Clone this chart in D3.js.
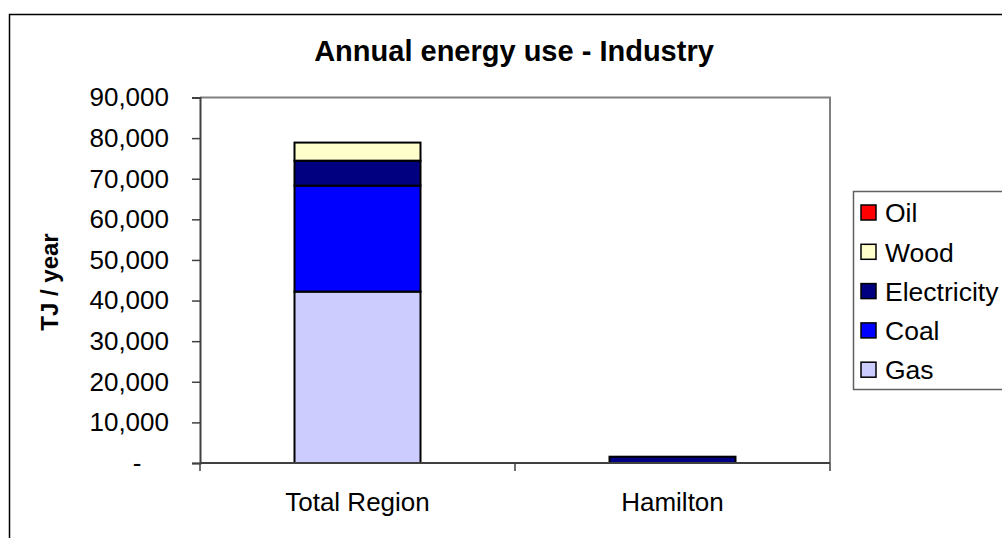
<!DOCTYPE html>
<html lang="en">
<head>
<meta charset="utf-8">
<title>Annual energy use - Industry</title>
<script src="https://d3js.org/d3.v7.min.js"></script>
<style>
body { margin: 0; background: #fff; }
text { font-family: "Liberation Sans", Arial, sans-serif; fill: #000; }
</style>
</head>
<body>
<script>
// data (TJ / year)
var categories = ["Total Region", "Hamilton"];
var seriesNames = ["Gas", "Coal", "Electricity", "Wood", "Oil"];
var gas = [42200, 0];
var coal = [26100, 0];
var electricity = [6150, 1550];
var wood = [4450, 0];
var oil = [0, 0];
var yTicks = [0, 10000, 20000, 30000, 40000, 50000, 60000, 70000, 80000, 90000];
var colors = {Gas: "#ccccff", Coal: "#0000ff", Electricity: "#000080", Wood: "#ffffcc", Oil: "#ff0000"};

var table = categories.map(function (c, i) {
    return {cat: c, Gas: gas[i], Coal: coal[i], Electricity: electricity[i], Wood: wood[i], Oil: oil[i]};
});

var W = 1002, H = 538;
var plot = {left: 200, top: 97.5, right: 830, bottom: 463};

var svg = d3.select("body").append("svg")
    .attr("width", W).attr("height", H);

// outer chart frame
svg.append("rect")
    .attr("x", 9.5).attr("y", 14.5)
    .attr("width", 1100).attr("height", 600)
    .attr("fill", "#fff").attr("stroke", "#000").attr("stroke-width", 1.5);

var x = d3.scaleBand()
    .domain(categories)
    .range([plot.left, plot.right])
    .paddingInner(0.6).paddingOuter(0.3);

var y = d3.scaleLinear()
    .domain([0, 90000])
    .range([plot.bottom, plot.top]);

// plot area border (top and right in grey)
svg.append("path")
    .attr("d", "M" + plot.left + "," + plot.top + "H" + plot.right + "V" + plot.bottom)
    .attr("fill", "none").attr("stroke", "#808080").attr("stroke-width", 2);

// stacked bars
var stack = d3.stack().keys(seriesNames)(table);
svg.append("g").selectAll("g")
    .data(stack)
    .enter().append("g")
    .attr("fill", function (d) { return colors[d.key]; })
    .selectAll("rect")
    .data(function (d) { return d.filter(function (p) { return p[1] - p[0] > 0; }); })
    .enter().append("rect")
    .attr("x", function (d) { return x(d.data.cat); })
    .attr("width", x.bandwidth())
    .attr("y", function (d) { return y(d[1]); })
    .attr("height", function (d) { return y(d[0]) - y(d[1]); })
    .attr("stroke", "#000").attr("stroke-width", 2);

// y axis
var fmt = d3.format(",");
var yAxis = svg.append("g")
    .attr("transform", "translate(" + plot.left + ",0)")
    .call(d3.axisLeft(y).tickValues(yTicks).tickSize(8).tickPadding(23)
        .tickFormat(function (d) { return d === 0 ? "-" : fmt(d); }));
yAxis.select(".domain").attr("stroke", "#404040").attr("stroke-width", 2);
yAxis.selectAll(".tick line").attr("stroke", "#404040").attr("stroke-width", 1.5);
yAxis.selectAll(".tick text")
    .attr("font-size", 26).attr("font-family", "Liberation Sans, Arial, sans-serif")
    .attr("fill", "#000");
yAxis.selectAll(".tick").filter(function (d) { return d === 0; }).select("text")
    .attr("text-anchor", "middle").attr("x", -63);

// x axis with ticks at category boundaries
var bounds = [plot.left].concat(categories.map(function (c) {
    return x(c) - x.step() * x.paddingOuter() + x.step();
}));
var xg = svg.append("g");
xg.append("line")
    .attr("x1", plot.left).attr("x2", plot.right)
    .attr("y1", plot.bottom).attr("y2", plot.bottom)
    .attr("stroke", "#404040").attr("stroke-width", 2);
xg.selectAll(".xt").data(bounds).enter().append("line")
    .attr("x1", function (d) { return d; }).attr("x2", function (d) { return d; })
    .attr("y1", plot.bottom).attr("y2", plot.bottom + 8)
    .attr("stroke", "#404040").attr("stroke-width", 1.5);
xg.selectAll(".xl").data(categories).enter().append("text")
    .attr("x", function (d) { return x(d) + x.bandwidth() / 2; })
    .attr("y", 511)
    .attr("text-anchor", "middle")
    .attr("font-size", 26)
    .text(function (d) { return d; });

// title
svg.append("text")
    .attr("x", 514).attr("y", 61)
    .attr("text-anchor", "middle")
    .attr("font-size", 29).attr("font-weight", "bold")
    .text("Annual energy use - Industry");

// y axis title
svg.append("text")
    .attr("transform", "translate(58,282) rotate(-90)")
    .attr("text-anchor", "middle")
    .attr("font-size", 24).attr("font-weight", "bold")
    .text("TJ / year");

// legend
var legend = svg.append("g");
legend.append("rect")
    .attr("x", 853.5).attr("y", 191.5)
    .attr("width", 200).attr("height", 198)
    .attr("fill", "#fff").attr("stroke", "#606060").attr("stroke-width", 1.5);
var items = seriesNames.slice().reverse();
var li = legend.selectAll(".li").data(items).enter().append("g")
    .attr("transform", function (d, i) { return "translate(861," + (213 + i * 39.3) + ")"; });
li.append("rect")
    .attr("x", 0).attr("y", -8).attr("width", 15).attr("height", 15)
    .attr("fill", function (d) { return colors[d]; })
    .attr("stroke", "#000").attr("stroke-width", 1.5);
li.append("text")
    .attr("x", 24).attr("y", 0).attr("dy", "0.35em")
    .attr("font-size", 26.5)
    .text(function (d) { return d; });
</script>
</body>
</html>
